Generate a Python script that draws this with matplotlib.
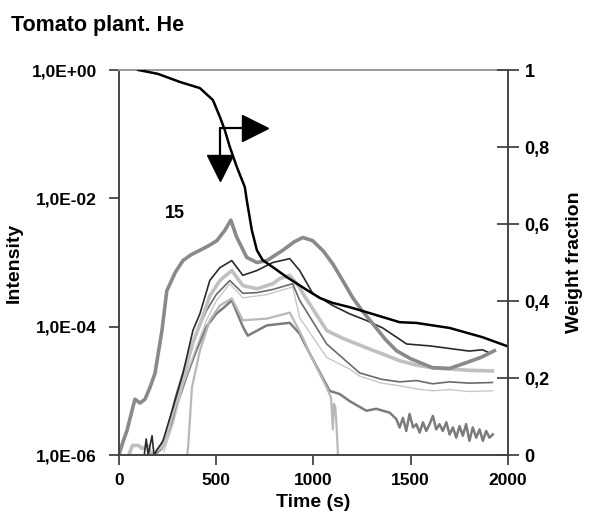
import numpy as np
import matplotlib
matplotlib.use("Agg")
import matplotlib.pyplot as plt

plt.rcParams['font.family'] = ['Liberation Sans', 'DejaVu Sans']
plt.rcParams['font.weight'] = 'bold'

# ---- data (time in s, intensity given as log10 values) ----
# curve "15" (thick mid grey)
t_15 = [0, 20, 41, 82, 108, 134, 159, 185, 221, 246, 290, 329, 370, 416, 460, 503, 544, 575,
        606, 657, 709, 760, 842, 900, 945, 996, 1050, 1099, 1150, 1202, 1250, 1304, 1370, 1427,
        1500, 1612, 1700, 1787, 1860, 1930]
lg_15 = [-6.0, -5.8, -5.62, -5.13, -5.19, -5.13, -4.95, -4.73, -4.06, -3.44, -3.15, -2.97, -2.88,
         -2.81, -2.74, -2.66, -2.50, -2.34, -2.61, -2.92, -3.0, -2.97, -2.81, -2.68, -2.61, -2.66,
         -2.82, -3.02, -3.28, -3.55, -3.75, -3.95, -4.2, -4.375, -4.5, -4.64, -4.65, -4.56, -4.48,
         -4.375]

# dark thin curve
t_dark = [130, 140, 150, 170, 180, 200, 226, 277, 329, 380, 416, 467, 519, 580, 637, 709, 791,
          878, 929, 996, 1099, 1186, 1270, 1356, 1420, 1479, 1600, 1700, 1800, 1870, 1905]
lg_dark = [-6.0, -5.75, -6.0, -5.7, -6.0, -5.9, -5.78, -5.27, -4.73, -4.06, -3.80, -3.28, -3.08,
           -2.97, -3.20, -3.125, -3.0, -2.94, -3.125, -3.48, -3.67, -3.80, -3.9, -4.02, -4.15,
           -4.27, -4.30, -4.34, -4.38, -4.36, -4.41]

# light thick curve
t_lthick = [50, 70, 100, 120, 150, 165, 230, 280, 330, 380, 430, 467, 519, 580, 637, 709, 791,
            827, 878, 929, 945, 1068, 1150, 1273, 1350, 1443, 1530, 1612, 1700, 1800, 1920]
lg_lthick = [-6.0, -5.85, -5.85, -5.9, -5.85, -6.0, -5.85, -5.3, -4.8, -4.25, -3.85, -3.52, -3.28,
             -3.125, -3.36, -3.41, -3.33, -3.25, -3.2, -3.39, -3.48, -4.06, -4.18, -4.33, -4.42,
             -4.53, -4.6, -4.64, -4.66, -4.68, -4.69]

# medium grey thin curve
t_mid = [200, 240, 290, 340, 400, 450, 500, 570, 637, 709, 791, 893, 929, 1068, 1237, 1350,
         1443, 1530, 1612, 1700, 1800, 1920]
lg_mid = [-5.95, -5.7, -5.1, -4.6, -4.1, -3.75, -3.5, -3.28, -3.48, -3.47, -3.42, -3.33, -3.59,
          -4.27, -4.72, -4.82, -4.86, -4.84, -4.89, -4.86, -4.88, -4.87]

# light thin curve
t_lthin = [230, 280, 330, 400, 450, 500, 570, 637, 760, 893, 929, 1068, 1186, 1237, 1350, 1443,
           1530, 1612, 1700, 1800, 1920]
lg_lthin = [-5.95, -5.5, -4.9, -4.3, -3.9, -3.6, -3.33, -3.55, -3.5, -3.38, -3.86, -4.48, -4.66,
            -4.77, -4.88, -4.92, -4.97, -5.0, -4.98, -5.01, -5.0]

# light grey curve that drops out near 1130 s
t_drop = [350, 355, 375, 416, 467, 519, 580, 637, 760, 878, 945, 981, 1068, 1090, 1100, 1105,
          1112, 1118, 1126]
lg_drop = [-6.0, -5.9, -4.95, -4.375, -3.9, -3.67, -3.56, -3.9, -3.875, -3.78, -4.17, -4.42,
           -4.95, -5.1, -5.6, -5.2, -5.25, -5.5, -6.0]

# lowest noisy curve
t_low = [180, 220, 260, 300, 350, 400, 450, 500, 540, 580, 637, 662, 760, 878, 929, 981, 1083,
         1135, 1186, 1272, 1323, 1357, 1392, 1426, 1443, 1460, 1477, 1494, 1512, 1529, 1546, 1563,
         1580, 1597, 1614, 1631, 1648, 1665, 1683, 1700, 1717, 1734, 1751, 1768, 1785, 1802, 1819,
         1837, 1854, 1871, 1888, 1905, 1922]
lg_low = [-6.0, -5.9, -5.6, -5.2, -4.75, -4.35, -4.0, -3.8, -3.7, -3.59, -4.0, -4.14, -3.98,
          -3.94, -4.11, -4.42, -5.0, -5.05, -5.16, -5.31, -5.28, -5.31, -5.34, -5.44, -5.57,
          -5.42, -5.625, -5.36, -5.57, -5.52, -5.65, -5.49, -5.625, -5.52, -5.39, -5.60, -5.52,
          -5.625, -5.49, -5.68, -5.57, -5.73, -5.55, -5.70, -5.52, -5.78, -5.57, -5.73, -5.60,
          -5.78, -5.625, -5.73, -5.68]

# weight fraction (right axis)
t_wf = [100, 200, 313, 416, 483, 519, 544, 570, 606, 647, 657, 683, 709, 739, 791, 863, 965,
        1032, 1099, 1186, 1273, 1443, 1530, 1700, 1869, 2000]
wf = [1.0, 0.99, 0.969, 0.953, 0.922, 0.878, 0.844, 0.80, 0.748, 0.696, 0.662, 0.584, 0.532,
      0.506, 0.488, 0.462, 0.429, 0.408, 0.395, 0.384, 0.371, 0.345, 0.343, 0.330, 0.306, 0.282]

left_ticks = [1e-6, 1e-4, 1e-2, 1e0]
left_labels = ["1,0E-06", "1,0E-04", "1,0E-02", "1,0E+00"]
right_ticks = [0, 0.2, 0.4, 0.6, 0.8, 1.0]
right_labels = ["0", "0,2", "0,4", "0,6", "0,8", "1"]
x_ticks = [0, 500, 1000, 1500, 2000]

# ---- figure ----
fig = plt.figure(figsize=(5.89, 5.17), dpi=100)
ax = fig.add_axes([0.2020, 0.1199, 0.6604, 0.7447])

series = [
    (t_low, lg_low, '#7c7c7c', 1.8),
    (t_drop, lg_drop, '#b8b8b8', 1.6),
    (t_lthin, lg_lthin, '#c8c8c8', 1.0),
    (t_mid, lg_mid, '#6a6a6a', 1.2),
    (t_lthick, lg_lthick, '#c0c0c0', 2.6),
    (t_dark, lg_dark, '#2a2a2a', 1.2),
    (t_15, lg_15, '#8a8a8a', 2.6),
]
for t, lg, c, lw in series:
    ax.plot(t, 10.0 ** np.asarray(lg), color=c, lw=lw, solid_joinstyle='round')

ax.set_yscale('log')
ax.set_ylim(1e-6, 1)
ax.set_xlim(0, 2000)
ax.set_yticks(left_ticks)
ax.set_yticklabels(left_labels)
ax.yaxis.set_minor_locator(matplotlib.ticker.NullLocator())
ax.set_xticks(x_ticks)
ax.set_xticklabels([str(v) for v in x_ticks])
ax.tick_params(axis='x', direction='out', length=7, width=1.3, labelsize=12.5, pad=6,
               color='#444444')
ax.tick_params(axis='y', direction='out', length=7, width=1.3, labelsize=12.5, pad=9,
               color='#444444')
ax.set_xlabel("Time (s)", fontsize=14, fontweight='bold', labelpad=4)
ax.set_ylabel("Intensity", fontsize=14, fontweight='bold', labelpad=6)
for s in ['left', 'bottom']:
    ax.spines[s].set_color('#444444')
    ax.spines[s].set_linewidth(1.4)
ax.spines['top'].set_color('#9a9a9a')
ax.spines['top'].set_linewidth(1.4)
ax.spines['right'].set_visible(False)

ax.text(288, 10 ** -2.23, "15", fontsize=13, fontweight='bold', ha='center', va='center')

ax2 = ax.twinx()
ax2.plot(t_wf, wf, color='black', lw=1.8)
ax2.set_ylim(0, 1)
ax2.set_yticks(right_ticks)
ax2.set_yticklabels(right_labels)
ax2.tick_params(axis='y', direction='inout', length=16, width=1.3, labelsize=13, pad=4,
                color='#444444')
ax2.set_ylabel("Weight fraction", fontsize=14, fontweight='bold', labelpad=12)
for s in ['left', 'top', 'bottom']:
    ax2.spines[s].set_visible(False)
ax2.spines['right'].set_color('#444444')
ax2.spines['right'].set_linewidth(1.4)

# arrow indicator
ax2.plot([519, 519, 640], [0.735, 0.849, 0.849], color='black', lw=1.6)
ax2.plot([700], [0.849], marker='>', markersize=19, color='black', linestyle='none')
ax2.plot([519], [0.745], marker='v', markersize=19, color='black', linestyle='none')

fig.text(0.018, 1 - 31 / 517, "Tomato plant. He", fontsize=15.5, fontweight='bold',
         ha='left', va='baseline')

fig.savefig("out.png", dpi=100)
